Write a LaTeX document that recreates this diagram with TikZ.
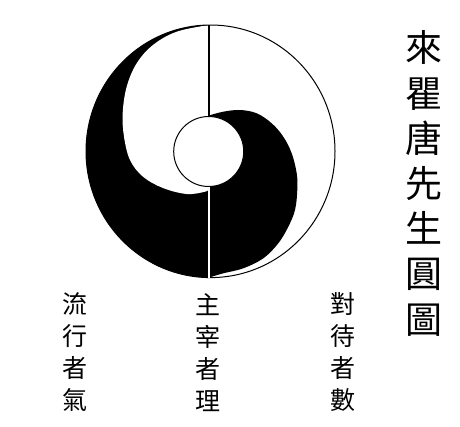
\documentclass[tikz,border=0pt]{standalone}
\usepackage{fontspec}
\newfontfamily\cjk{Noto Sans CJK TC}
\begin{document}
\begin{tikzpicture}[x=1pt,y=-1pt,
  outline/.style={draw=black,line width=1pt},
  titletext/.style={font=\cjk\fontsize{37}{45.2}\selectfont,align=center,inner sep=0pt},
  labeltext/.style={font=\cjk\fontsize{25}{32}\selectfont,align=center,inner sep=0pt}]
\useasboundingbox[fill=white] (0,0) rectangle (460,426);
% left black crescent (left half of the outer circle)
\begin{scope}
  \clip (0,0) rectangle (209,426);
  \fill[black] (210.5,151.3) ellipse [x radius=124.5, y radius=126.3];
\end{scope}
% white region inside the left crescent
\fill[white] plot[smooth,tension=0.6] coordinates {(209,25) (176.7,31.7) (153,45) (136.7,63.3) (126.7,86.7) (122.7,113) (124,136.7) (130,160) (143,176.7) (163,188) (186.7,194) (205,191.7) (209,189)} -- cycle;
% right black shape
\fill[black] plot[smooth,tension=0.6] coordinates {(209,115.5) (223.3,111.7) (240,110) (256.7,113.3) (271.7,123.3) (283.3,136.7) (291.7,153.3) (296.7,173.3) (297.3,190) (295,210) (288.3,226.7) (278.3,243.3) (263.3,258.3) (243.3,268.3) (223.3,273.3) (209,277.6)} -- cycle;
% outer circle outline
\draw[outline] (210.5,151.3) ellipse [x radius=124.5, y radius=126.3];
% inner circle
\fill[white] (208.7,151.5) circle [radius=35];
\draw[outline] (208.7,151.5) circle [radius=35];
% vertical line
\coordinate (top) at (209,25);
\coordinate (itop) at (209,116.5);
\coordinate (ibot) at (209,186.5);
\coordinate (bot) at (209,277.5);
\draw[black,line width=1.4pt] (top) -- (itop);
\draw[white,line width=1.5pt] (ibot) -- (bot);
% texts
\node[titletext] (title) at (424,183.5) {來\\瞿\\唐\\先\\生\\圓\\圖};
\node[labeltext] (qi) at (75,352.5) {流\\行\\者\\氣};
\node[labeltext] (li) at (208,352.5) {主\\宰\\者\\理};
\node[labeltext] (shu) at (343,352.5) {對\\待\\者\\數};
\end{tikzpicture}
\end{document}
